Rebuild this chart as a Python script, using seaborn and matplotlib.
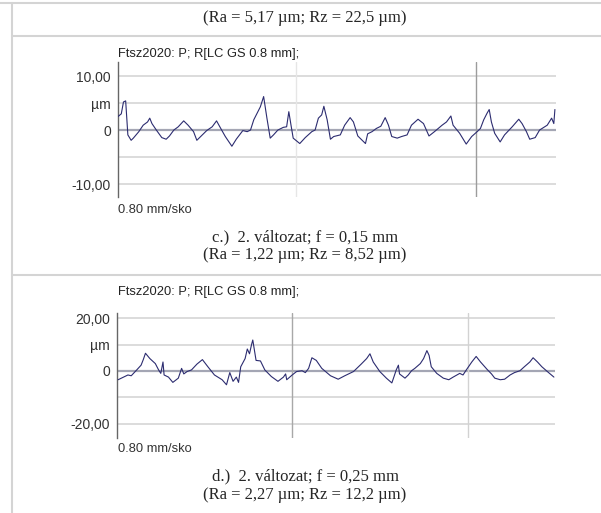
import numpy as np
import pandas as pd
import matplotlib

matplotlib.use('Agg')
import matplotlib.pyplot as plt
from matplotlib.lines import Line2D
import seaborn as sns

# Profile c.) - distance along the trace [mm] and height [um]
c_pos = [0.00, 0.03, 0.05, 0.07, 0.09, 0.12, 0.14, 0.19, 0.23, 0.27, 0.29, 0.31, 0.35, 0.40, 0.44,
         0.47, 0.51, 0.55, 0.60, 0.64, 0.69, 0.72, 0.76, 0.81, 0.86, 0.90, 0.93, 0.98, 1.04, 1.08,
         1.14, 1.18, 1.21, 1.24, 1.30, 1.33, 1.36, 1.39, 1.42, 1.46, 1.51, 1.54, 1.56, 1.58, 1.60,
         1.66, 1.71, 1.77, 1.80, 1.83, 1.86, 1.88, 1.91, 1.94, 1.97, 2.03, 2.07, 2.12, 2.15, 2.19,
         2.26, 2.28, 2.32, 2.36, 2.40, 2.44, 2.47, 2.50, 2.55, 2.59, 2.64, 2.68, 2.74, 2.79, 2.84,
         2.89, 2.96, 3.00, 3.04, 3.06, 3.12, 3.18, 3.23, 3.28, 3.31, 3.34, 3.37, 3.39, 3.41, 3.44,
         3.49, 3.53, 3.60, 3.66, 3.69, 3.73, 3.76, 3.81, 3.85, 3.92, 3.96, 3.98, 3.99]
c_height = [2.5, 3.0, 5.2, 5.4, -0.9, -1.9, -1.5, -0.3, 0.9, 1.5, 2.2, 1.2, 0.0, -1.4, -1.7,
            -1.1, 0.0, 0.6, 1.7, 0.9, -0.3, -1.9, -1.1, -0.1, 0.6, 1.7, 0.6, -1.2, -3.0, -1.7,
            -0.1, -0.3, 0.0, 1.9, 4.3, 6.2, 2.2, -1.5, -0.9, 0.0, 0.5, 0.6, 3.4, 0.9, -1.5,
            -2.5, -1.4, -0.3, 0.0, 2.2, 2.8, 4.4, 1.9, -1.7, -1.2, -0.9, 0.9, 2.3, 1.5, -1.1,
            -2.5, -0.7, -0.3, 0.3, 0.7, 2.3, 0.9, -1.2, -1.5, -1.2, -0.9, 0.9, 2.0, 1.2, -1.1,
            -0.3, 0.9, 1.5, 2.6, 0.9, -0.6, -2.6, -1.2, -0.3, 0.3, 1.9, 3.1, 3.8, 1.5, -0.6,
            -2.2, -0.9, 0.6, 2.0, 1.2, -0.3, -1.7, -1.4, 0.0, 0.9, 2.2, 1.2, 3.8]

# Profile d.)
d_pos = [0.01, 0.06, 0.10, 0.13, 0.18, 0.22, 0.24, 0.26, 0.30, 0.35, 0.38, 0.40, 0.42, 0.43, 0.47,
         0.51, 0.56, 0.59, 0.61, 0.64, 0.68, 0.73, 0.78, 0.83, 0.89, 0.96, 1.00, 1.03, 1.06, 1.09,
         1.11, 1.13, 1.17, 1.19, 1.21, 1.23, 1.24, 1.27, 1.31, 1.35, 1.41, 1.47, 1.52, 1.54, 1.55,
         1.60, 1.64, 1.69, 1.72, 1.75, 1.78, 1.82, 1.87, 1.95, 2.02, 2.08, 2.16, 2.23, 2.28, 2.31,
         2.34, 2.40, 2.46, 2.51, 2.53, 2.55, 2.57, 2.58, 2.63, 2.66, 2.69, 2.72, 2.77, 2.80, 2.83,
         2.85, 2.87, 2.92, 2.98, 3.03, 3.07, 3.13, 3.16, 3.19, 3.24, 3.28, 3.32, 3.38, 3.42, 3.45,
         3.50, 3.54, 3.59, 3.63, 3.68, 3.72, 3.77, 3.80, 3.84, 3.88, 3.93, 3.99]
d_height = [-3.3, -2.3, -1.5, -1.8, 0.4, 2.2, 4.3, 6.7, 4.7, 2.8, 0.4, -0.9, 3.4, -1.5, -2.3,
            -4.3, -2.7, 1.0, -1.1, -0.2, 0.4, 2.6, 4.3, 1.6, -1.5, -3.3, -5.2, -0.6, -3.9, -2.3,
            -4.3, 1.6, 4.7, 8.3, 6.5, 10.2, 11.7, 4.0, 3.8, 0.4, -2.1, -3.9, -2.3, -1.1, -3.3,
            -1.5, -0.2, 0.1, -0.6, 1.0, 5.0, 4.0, 1.0, -1.8, -3.1, -1.8, -0.2, 2.6, 4.7, 6.5,
            3.4, -0.2, -2.7, -4.5, -2.1, 0.4, 2.2, -1.1, -2.7, -1.5, 0.1, 1.0, 2.8, 4.7, 7.7,
            5.9, 1.6, -0.9, -2.7, -3.3, -2.3, -0.9, -1.5, 0.4, 3.4, 5.5, 3.4, 0.6, -1.1, -2.7,
            -3.3, -3.1, -1.5, -0.6, 0.1, 1.6, 3.4, 5.0, 3.4, 1.6, -0.2, -2.3]

# Axis settings
c_ticks = [10, 5, 0, -5, -10]
c_ticklabels = ['10,00', 'µm', '0', '', '-10,00']
c_ylim = (-12.4, 12.6)
c_vlines = [1.63, 3.27]
c_vcolors = ['#e6e6e6', '#9c9c9c']

d_ticks = [20, 10, 0, -10, -20]
d_ticklabels = ['20,00', 'µm', '0', '', '-20,00']
d_ylim = (-25.3, 21.9)
d_vlines = [1.60, 3.21]
d_vcolors = ['#a8a8a8', '#d2d2d2']

profile_title = 'Ftsz2020: P; R[LC GS 0.8 mm];'
scale_note = '0.80 mm/sko'
caption_top = '(Ra = 5,17 µm; Rz = 22,5 µm)'
caption_c = ['c.)  2. változat; f = 0,15 mm', '(Ra = 1,22 µm; Rz = 8,52 µm)']
caption_d = ['d.)  2. változat; f = 0,25 mm', '(Ra = 2,27 µm; Rz = 12,2 µm)']

sns.set_theme(style='white')
plt.rcParams['font.family'] = ['Liberation Sans', 'DejaVu Sans']

W, H = 601, 513
fig = plt.figure(figsize=(W / 100, H / 100), dpi=100)
fig.patch.set_facecolor('white')


def fx(x):
    return x / W


def fy(y):
    return 1 - y / H


def draw_profile(left, right, top, bottom, pos, height, ticks, labels, ylim, vlines, vcolors):
    ax = fig.add_axes([fx(left), fy(bottom), (right - left) / W, (bottom - top) / H])
    df = pd.DataFrame({'pos': pos, 'height': height})
    for v in ticks:
        if v == 0:
            ax.axhline(v, color='#a4a6b4', lw=1.6, zorder=1)
        else:
            ax.axhline(v, color='#d6d6d6', lw=1.2, zorder=1)
    for v, col in zip(vlines, vcolors):
        ax.axvline(v, color=col, lw=1.0, zorder=1)
    sns.lineplot(data=df, x='pos', y='height', ax=ax, color='#2c2c70', lw=0.8,
                 sort=False, estimator=None, zorder=3)
    ax.set_xlim(0, 4.0)
    ax.set_ylim(*ylim)
    ax.set_yticks(ticks)
    ax.set_yticklabels(labels)
    ax.set_xticks([])
    ax.set_xlabel('')
    ax.set_ylabel('')
    ax.tick_params(axis='y', length=0, pad=5, labelsize=10, labelcolor='#333333')
    for s in ['top', 'right', 'bottom']:
        ax.spines[s].set_visible(False)
    ax.spines['left'].set_color('#666666')
    ax.spines['left'].set_linewidth(1.0)
    ax.set_facecolor('none')
    return ax


draw_profile(118, 556, 62, 197, c_pos, c_height, c_ticks, c_ticklabels, c_ylim, c_vlines, c_vcolors)
draw_profile(117, 555, 313, 438, d_pos, d_height, d_ticks, d_ticklabels, d_ylim, d_vlines, d_vcolors)

# small printout texts
for y in [54, 292]:
    fig.text(fx(118), fy(y), profile_title, ha='left', va='center', fontsize=9.3, color='#222222')
for y in [210, 449]:
    fig.text(fx(118), fy(y), scale_note, ha='left', va='center', fontsize=9.3, color='#333333')

# captions in serif
serif = ['Liberation Serif', 'DejaVu Serif']
fig.text(fx(305), fy(18), caption_top, ha='center', va='center', fontsize=12, family=serif)
fig.text(fx(305), fy(237), caption_c[0], ha='center', va='center', fontsize=12, family=serif)
fig.text(fx(305), fy(255), caption_c[1], ha='center', va='center', fontsize=12, family=serif)
fig.text(fx(305), fy(476), caption_d[0], ha='center', va='center', fontsize=12, family=serif)
fig.text(fx(305), fy(495), caption_d[1], ha='center', va='center', fontsize=12, family=serif)

# table borders of the scanned page
border = '#d4d4d4'
fig.add_artist(Line2D([fx(0), fx(W)], [fy(3), fy(3)], color=border, lw=1.5))
fig.add_artist(Line2D([fx(12), fx(W)], [fy(36), fy(36)], color=border, lw=1.5))
fig.add_artist(Line2D([fx(12), fx(W)], [fy(275), fy(275)], color=border, lw=1.5))
fig.add_artist(Line2D([fx(12), fx(12)], [fy(3), fy(H)], color=border, lw=1.5))

fig.savefig('out.png', dpi=100, facecolor='white')
plt.close(fig)
